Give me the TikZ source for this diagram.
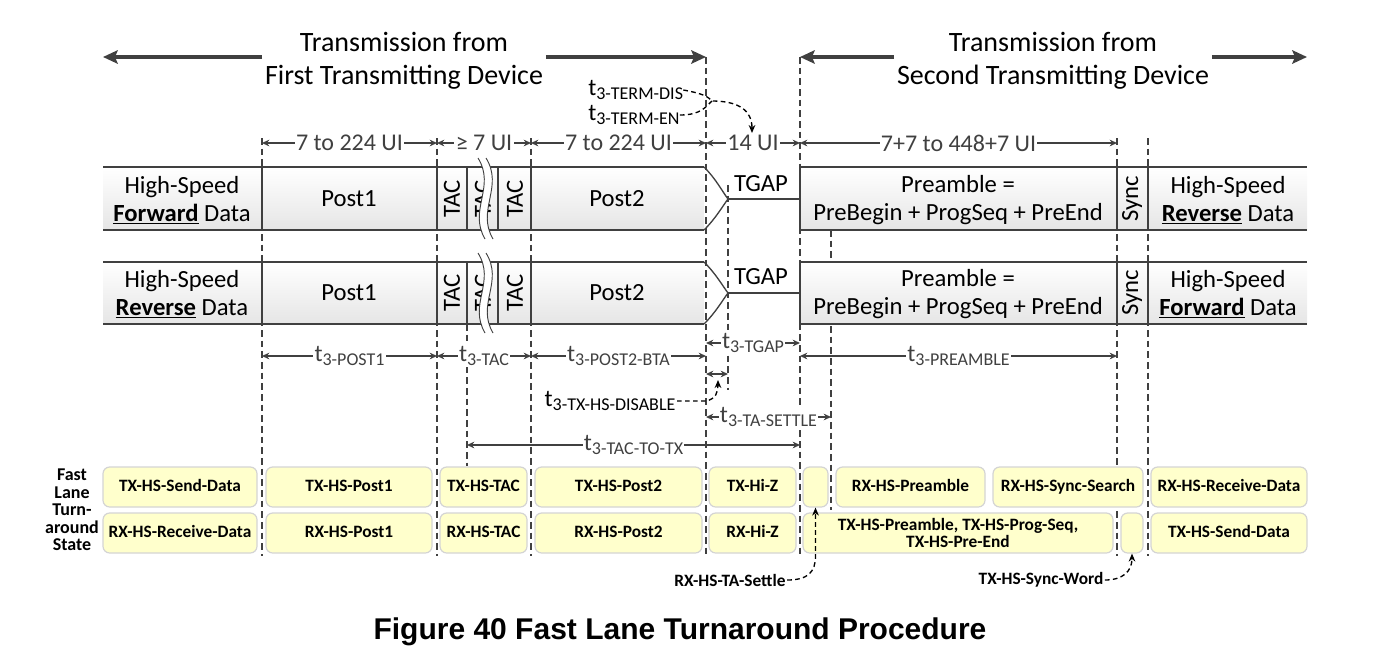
\documentclass[tikz,border=0pt]{standalone}
\usepackage{fontspec}
\setmainfont{Carlito}
\newfontfamily\capfont{Liberation Sans}
\usetikzlibrary{arrows.meta}
\definecolor{lin}{RGB}{64,64,64}
\definecolor{stfill}{RGB}{255,255,204}
\definecolor{stline}{RGB}{212,212,212}
\newcommand{\tsb}[1]{t\raisebox{-3.5pt}{\fontsize{13.5}{14}\selectfont #1}}

\begin{document}
\begin{tikzpicture}[x=.75pt,y=-.75pt,
  guide/.style={lin,line width=.8pt,dash pattern=on 5pt off 3pt},
  bigarr/.style={-{Stealth[length=11pt,width=10pt,inset=2pt]},line width=3pt,lin},
  dim/.style={{Stealth[length=5.5pt,width=5pt]}-{Stealth[length=5.5pt,width=5pt]},line width=1pt,lin},
  dimlbl/.style={fill=white,inner sep=1pt,font=\fontsize{18}{20}\selectfont},
  headtxt/.style={align=center,inner sep=2pt,font=\fontsize{21}{24.75}\selectfont},
  rowtxt/.style={align=center,inner sep=0pt,font=\fontsize{18.5}{21}\selectfont},
  rottxt/.style={rotate=90,inner sep=0pt,font=\fontsize{18.5}{21}\selectfont},
  stbox/.style={draw=stline,fill=stfill,rounded corners=5pt,line width=.9pt,minimum height=30pt,
    align=center,inner sep=1pt,font=\fontsize{13}{12.5}\selectfont\bfseries},
  onel/.style={text height=9.2pt,text depth=2.6pt},
  bw/.style={minimum width=#1*.75pt},
  dsh/.style={black,line width=1pt,dash pattern=on 3.5pt off 2.5pt},
  tip/.style={-{Stealth[length=6pt,width=5pt]}}
]
\useasboundingbox (0,0) rectangle (1396,664);

% heading arrows
\coordinate (lft) at (103,57);
\coordinate (mida) at (706,57);
\coordinate (midb) at (800,57);
\coordinate (rgt) at (1307,57);
\node[headtxt] (first) at (404,61) {Transmission from\\First Transmitting Device};
\node[headtxt] (second) at (1053,61) {Transmission from\\Second Transmitting Device};
\draw[bigarr] (first.west |- lft) -- (lft);
\draw[bigarr] (first.east |- mida) -- (mida);
\draw[bigarr] (second.west |- midb) -- (midb);
\draw[bigarr] (second.east |- rgt) -- (rgt);

% dashed guides
\foreach \xx in {262,437,531,1117,1148}
  \draw[guide] (\xx,138) -- (\xx,556);
\draw[guide] (706,57) -- (706,556);
\draw[guide] (800,57) -- (800,556);
\draw[guide] (467,324) -- (467,466);
\draw[guide] (728,185) -- (728,390);
\draw[guide] (831,230) -- (831,510);

% termination timing
\node[anchor=west,inner sep=0pt,font=\fontsize{18}{20}\selectfont] (termdis) at (588,90) {\tsb{3-TERM-DIS}};
\node[anchor=west,inner sep=0pt,font=\fontsize{18}{20}\selectfont] (termen) at (588,115) {\tsb{3-TERM-EN}};
\draw[dsh,tip] (termdis.east) .. controls (705,94) and (708,97) .. (712,101)
  .. controls (738,101) and (752,110) .. (752,133);
\draw[dsh] (termen.east) .. controls (702,115) and (706,106) .. (712,101);

% UI counts
\draw[dim] (262,143) -- node[dimlbl] {7 to 224 UI} (437,143);
\draw[dim] (437,143) -- node[dimlbl] {≥ 7 UI} (531,143);
\draw[dim] (531,143) -- node[dimlbl] {7 to 224 UI} (706,143);
\draw[dim] (706,143) -- node[dimlbl] {14 UI} (800,143);
\draw[dim] (800,143) -- node[dimlbl] {7+7 to 448+7 UI} (1117,143);

% lanes
\foreach \yt/\yb/\ym in {167/230/199,262/324/293}{
  \shade[top color=white,bottom color=black!10] (103,\yt) rectangle (704,\yb);
  \shade[top color=white,bottom color=black!10] (800,\yt) rectangle (1307,\yb);
  \draw[lin,line width=1pt] (103,\yt) -- (704,\yt) (103,\yb) -- (704,\yb)
    (800,\yt) -- (1307,\yt) (800,\yb) -- (1307,\yb);
  \foreach \xx in {262,437,467,498,531,800,1117,1148}
    \draw[lin,line width=1pt] (\xx,\yt) -- (\xx,\yb);
  \draw[lin,line width=1pt] (704,\yt) .. controls (716,{\yt+12}) and (722,{\ym-8}) .. (728,\ym)
    .. controls (722,{\ym+8}) and (716,{\yb-12}) .. (704,\yb);
  \draw[lin,line width=1pt] (728,\ym) -- (800,\ym);
}

\node[rowtxt] (hsf1) at (182,200) {High-Speed\\\underline{\textbf{Forward}} Data};
\node[rowtxt] (posta1) at (349,199) {Post1};
\node[rottxt] (taca1) at (452,199) {TAC};
\node[rottxt] (tacb1) at (483,199) {TAC};
\node[rottxt] (tacc1) at (515,199) {TAC};
\node[rowtxt] (postb1) at (617,199) {Post2};
\node[rowtxt] (tgap1) at (761,184) {TGAP};
\node[rowtxt] (pre1) at (958,200) {Preamble =\\PreBegin + ProgSeq + PreEnd};
\node[rottxt] (sync1) at (1132,199) {Sync};
\node[rowtxt] (hsr1) at (1228,200) {High-Speed\\\underline{\textbf{Reverse}} Data};

\node[rowtxt] (hsr2) at (182,294) {High-Speed\\\underline{\textbf{Reverse}} Data};
\node[rowtxt] (posta2) at (349,293) {Post1};
\node[rottxt] (taca2) at (452,293) {TAC};
\node[rottxt] (tacb2) at (483,293) {TAC};
\node[rottxt] (tacc2) at (515,293) {TAC};
\node[rowtxt] (postb2) at (617,293) {Post2};
\node[rowtxt] (tgap2) at (761,277) {TGAP};
\node[rowtxt] (pre2) at (958,294) {Preamble =\\PreBegin + ProgSeq + PreEnd};
\node[rottxt] (sync2) at (1132,293) {Sync};
\node[rowtxt] (hsf2) at (1228,294) {High-Speed\\\underline{\textbf{Forward}} Data};

% break marks
\foreach \yt/\yb in {167/230,262/324}{
  \fill[white] (478,{\yt-9}) .. controls (496,{\yt+20}) and (468,{\yb-20}) .. (485,{\yb+9})
    -- (493,{\yb+9}) .. controls (476,{\yb-20}) and (504,{\yt+20}) .. (486,{\yt-9}) -- cycle;
  \draw[lin,line width=.7pt] (478,{\yt-9}) .. controls (496,{\yt+20}) and (468,{\yb-20}) .. (485,{\yb+9});
  \draw[lin,line width=.7pt] (486,{\yt-9}) .. controls (504,{\yt+20}) and (476,{\yb-20}) .. (493,{\yb+9});
}

% timing parameters
\draw[dim] (262,356) -- node[dimlbl] {\tsb{3-POST1}} (437,356);
\draw[dim] (437,356) -- node[dimlbl] {\tsb{3-TAC}} (531,356);
\draw[dim] (531,356) -- node[dimlbl] {\tsb{3-POST2-BTA}} (706,356);
\draw[dim] (706,343) -- node[dimlbl] {\tsb{3-TGAP}} (800,343);
\draw[dim] (800,356) -- node[dimlbl] {\tsb{3-PREAMBLE}} (1117,356);
\draw[dim] (706,374) -- (728,374);
\draw[dim] (706,417) -- node[dimlbl] {\tsb{3-TA-SETTLE}} (831,417);
\draw[dim] (467,445) -- node[dimlbl] {\tsb{3-TAC-TO-TX}} (800,445);
\node[inner sep=1pt,font=\fontsize{18}{20}\selectfont] (hsdis) at (610,401) {\tsb{3-TX-HS-DISABLE}};
\draw[dsh,tip] (hsdis.east) -- (706,401) .. controls (716,399) and (718,392) .. (718,380);

% turnaround states
\node[align=center,inner sep=0pt,font=\fontsize{13.5}{13.2}\selectfont\bfseries] (statelbl) at (72,510)
  {Fast\\Lane\\Turn-\\around\\State};

\node[stbox,onel,bw=154] (txsend1) at (180,487) {TX-HS-Send-Data};
\node[stbox,onel,bw=166] (txpost1) at (349,487) {TX-HS-Post1};
\node[stbox,onel,bw=87] (txtac) at (483.5,487) {TX-HS-TAC};
\node[stbox,onel,bw=167] (txpost2) at (618.5,487) {TX-HS-Post2};
\node[stbox,onel,bw=87] (txhiz) at (752.5,487) {TX-Hi-Z};
\node[stbox,onel,bw=25] (rxsettle) at (815.5,487) {};
\node[stbox,onel,bw=149] (rxpre) at (910.5,487) {RX-HS-Preamble};
\node[stbox,onel,bw=150] (rxsync) at (1068,487) {RX-HS-Sync-Search};
\node[stbox,onel,bw=156] (rxrecv2) at (1229,487) {RX-HS-Receive-Data};

\node[stbox,onel,bw=154] (rxrecv1) at (180,533) {RX-HS-Receive-Data};
\node[stbox,onel,bw=166] (rxpost1) at (349,533) {RX-HS-Post1};
\node[stbox,onel,bw=87] (rxtac) at (483.5,533) {RX-HS-TAC};
\node[stbox,onel,bw=167] (rxpost2) at (618.5,533) {RX-HS-Post2};
\node[stbox,onel,bw=87] (rxhiz) at (752.5,533) {RX-Hi-Z};
\node[stbox,bw=310] (txpre) at (958,533) {TX-HS-Preamble, TX-HS-Prog-Seq,\\TX-HS-Pre-End};
\node[stbox,onel,bw=22] (txsyncw) at (1132,533) {};
\node[stbox,onel,bw=156] (txsend2) at (1229,533) {TX-HS-Send-Data};

\node[inner sep=1pt,font=\fontsize{13}{14}\selectfont\bfseries] (settlelbl) at (730,580) {RX-HS-TA-Settle};
\node[inner sep=1pt,font=\fontsize{13}{14}\selectfont\bfseries] (syncwlbl) at (1041,580) {TX-HS-Sync-Word};
\draw[dsh,tip] (settlelbl.east) .. controls (808,580) and (815.5,572) .. (815.5,556) -- (rxsettle.south);
\draw[dsh,tip] (syncwlbl.east) .. controls (1122,580) and (1132,572) .. (txsyncw.south);

\node[font=\capfont\bfseries\fontsize{22.5}{26}\selectfont] (caption) at (680,632)
  {Figure 40 Fast Lane Turnaround Procedure};
\end{tikzpicture}
\end{document}
